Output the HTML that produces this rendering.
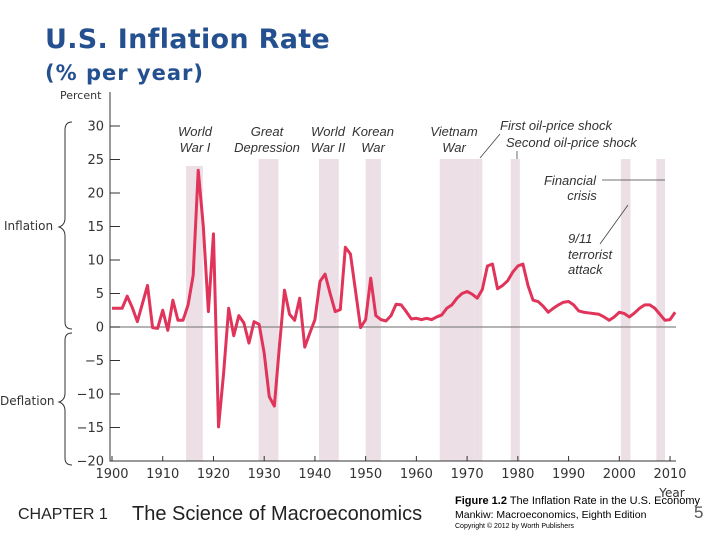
<!DOCTYPE html>
<html><head><meta charset="utf-8"><style>
body{margin:0;width:720px;height:540px;background:#fff;overflow:hidden;font-family:"Liberation Sans",sans-serif;position:relative}
.t{position:absolute;white-space:nowrap}
</style></head><body>
<div class="t" style="left:45px;top:24px;font-size:27px;font-weight:bold;color:#24508f;font-family:'DejaVu Sans',sans-serif;letter-spacing:0.3px">U.S. Inflation Rate</div>
<div class="t" style="left:45px;top:61px;font-size:21px;font-weight:bold;color:#24508f;font-family:'DejaVu Sans',sans-serif;letter-spacing:1px">(% per year)</div>
<svg id="ch" width="720" height="540" style="position:absolute;left:0;top:0"></svg>
<div class="t" style="left:18px;top:506px;font-size:16px;color:#222">CHAPTER 1</div>
<div class="t" style="left:132px;top:503px;font-size:20px;color:#222">The Science of Macroeconomics</div>
<div class="t" style="left:455px;top:495px;font-size:11px;color:#000"><b>Figure 1.2</b> The Inflation Rate in the U.S. Economy</div>
<div class="t" style="left:455px;top:509px;font-size:10.5px;color:#000">Mankiw: Macroeconomics, Eighth Edition</div>
<div class="t" style="left:455px;top:523px;font-size:7px;color:#000">Copyright © 2012 by Worth Publishers</div>
<div class="t" style="left:694px;top:503px;font-size:17px;color:#555">5</div>
<script>
const years0 = 1900;
const values = [2.8,2.8,2.8,4.6,2.9,0.8,3.5,6.2,-0.1,-0.2,2.5,-0.5,4.0,1.0,1.0,3.3,7.7,23.4,15.0,2.3,13.9,-14.9,-6.9,2.8,-1.3,1.7,0.6,-2.4,0.8,0.4,-3.9,-10.4,-11.8,-2.9,5.5,1.9,1.0,4.3,-3.0,-0.9,1.1,6.8,7.9,5.0,2.3,2.6,11.9,10.9,5.4,-0.1,1.1,7.3,1.7,1.1,0.9,1.7,3.4,3.3,2.3,1.2,1.3,1.1,1.3,1.1,1.5,1.8,2.8,3.3,4.3,5.0,5.3,4.9,4.3,5.6,9.1,9.4,5.7,6.2,6.9,8.2,9.1,9.4,6.2,4.0,3.8,3.1,2.2,2.8,3.3,3.7,3.8,3.3,2.4,2.2,2.1,2.0,1.9,1.5,1.0,1.5,2.2,2.0,1.5,2.1,2.8,3.3,3.3,2.8,1.9,1.0,1.1,2.2];
const bandStart = [1914.6,1928.9,1940.8,1950.0,1964.6,1971.5,1978.6,2000.3,2007.3];
const bandEnd = [1917.9,1932.8,1944.7,1953.0,1971.5,1973.0,1980.4,2002.2,2009.0];
const yTicks = [30,25,20,15,10,5,0,-5,-10,-15,-20];
const xTicks = [1900,1910,1920,1930,1940,1950,1960,1970,1980,1990,2000,2010];
const X = y => 112 + (y-1900)*5.073;
const Y = v => 327 - v*6.7;
const svg = document.getElementById('ch');
const NS='http://www.w3.org/2000/svg';
function mk(tag,a,txt){const e=document.createElementNS(NS,tag);for(const k in a)e.setAttribute(k,a[k]);if(txt!=null)e.textContent=txt;svg.appendChild(e);return e;}
bandStart.forEach((s,i)=>{
  const r=mk('rect',{x:X(s),y:i==0?166:159,width:X(bandEnd[i])-X(s),height:461-(i==0?166:159),fill:'#ecdfe6'});
  
  
});
const ax=mk('path',{d:'M110,92V461H676',stroke:'#333','stroke-width':1,fill:'none'});


const zl=mk('line',{x1:110,x2:676,y1:Y(0),y2:Y(0),stroke:'#888','stroke-width':1.3});


yTicks.forEach(v=>{
  mk('line',{x1:110,x2:120,y1:Y(v),y2:Y(v),stroke:'#333'});
  const t=mk('text',{x:104,y:Y(v)+4.5,'text-anchor':'end','font-size':13,fill:'#333','font-family':'DejaVu Sans, sans-serif'},v<0?'\u2212'+(-v):String(v));
  
  
});
xTicks.forEach(v=>{
  mk('line',{x1:X(v),x2:X(v),y1:461,y2:456,stroke:'#333'});
  const t=mk('text',{x:X(v),y:478,'text-anchor':'middle','font-size':13,fill:'#333','font-family':'DejaVu Sans, sans-serif'},String(v));
  
  
});
const pl=mk('polyline',{points:values.map((v,i)=>X(years0+i)+','+Y(v)).join(' '),fill:'none',stroke:'#e0345a','stroke-width':3,'stroke-linejoin':'round'});


const lab=(x,y,s,sz,anc,st,nm,ff)=>{const t=mk('text',{x:x,y:y,'font-size':sz,'text-anchor':anc||'start',fill:'#333','font-style':st||'normal','font-family':ff||'DejaVu Sans, sans-serif'},s);};
lab(60,99,'Percent',11,'start','normal','y-axis-title');
lab(672,497,'Year',12,'middle','normal','x-axis-title');
lab(4,230,'Inflation',12,'start','normal','inflation-label');
lab(0,405,'Deflation',12,'start','normal','deflation-label');
const leftAligned=['First oil-price shock','Second oil-price shock','9/11','terrorist','attack'];
[[195,136,'World'],[195,152,'War I'],[267,136,'Great'],[267,152,'Depression'],[328,136,'World'],[328,152,'War II'],[373,136,'Korean'],[373,152,'War'],[454,136,'Vietnam'],[454,152,'War'],[500,130,'First oil-price shock'],[506,147,'Second oil-price shock'],[570,185,'Financial'],[582,200,'crisis'],[568,243,'9/11'],[568,259,'terrorist'],[568,274,'attack']].forEach(a=>lab(a[0],a[1],a[2],13,leftAligned.includes(a[2])?'start':'middle','italic','annotation','Liberation Sans, sans-serif'));
mk('path',{d:'M500,134L480,158M517,151V159M602,180H665M600,244L628,205',stroke:'#444','stroke-width':0.8,fill:'none'});
mk('path',{d:'M72,122Q65,122 65,130V218Q65,225 59,227Q65,229 65,236V322Q65,329 72,329M72,333Q65,333 65,340V393Q65,400 59,402Q65,404 65,411V458Q65,465 72,465',stroke:'#333','stroke-width':1,fill:'none'});
</script>
</body></html>
